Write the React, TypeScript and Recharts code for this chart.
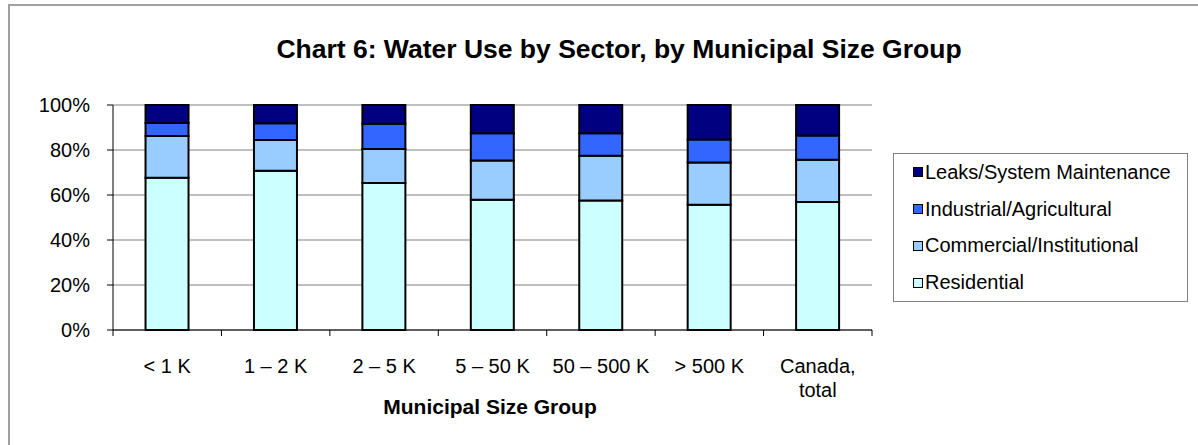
import { BarChart, Bar, XAxis, YAxis, CartesianGrid } from "recharts";

const categories = ["< 1 K", "1 – 2 K", "2 – 5 K", "5 – 50 K", "50 – 500 K", "> 500 K", "Canada,\ntotal"];
const residential = [67.7, 70.8, 65.3, 57.9, 57.6, 55.7, 56.9];
const commercial = [18.5, 13.6, 15.1, 17.4, 19.9, 18.8, 18.8];
const industrial = [5.8, 7.5, 11.3, 12.1, 9.9, 10.2, 10.7];
const leaks = [8.0, 8.1, 8.3, 12.6, 12.6, 15.3, 13.6];
const yTicks = [0, 20, 40, 60, 80, 100];

const SERIES = [
  { key: "residential", name: "Residential", fill: "#ccffff" },
  { key: "commercial", name: "Commercial/Institutional", fill: "#99ccff" },
  { key: "industrial", name: "Industrial/Agricultural", fill: "#3366ff" },
  { key: "leaks", name: "Leaks/System Maintenance", fill: "#000080" },
];

const data = categories.map((name, i) => ({
  name,
  residential: residential[i],
  commercial: commercial[i],
  industrial: industrial[i],
  leaks: leaks[i],
}));

const FONT = "'Liberation Sans', Arial, sans-serif";

// Excel puts the tick marks between categories, so draw them at the band edges
function CategoryTick(props: any) {
  const { x, y, payload, index } = props;
  const half = payload?.offset ?? 54;
  const lines = String(payload.value).split("\n");
  return (
    <g>
      <line x1={x - half} x2={x - half} y1={y} y2={y + 6} stroke="#000" />
      {index === categories.length - 1 && <line x1={x + half} x2={x + half} y1={y} y2={y + 6} stroke="#000" />}
      <text x={x} y={y + 43} textAnchor="middle" fontSize={20} fill="#000" fontFamily={FONT}>
        {lines.map((l, i) => (
          <tspan key={i} x={x} dy={i === 0 ? 0 : 24}>
            {l}
          </tspan>
        ))}
      </text>
    </g>
  );
}

export default function App() {
  return (
    <div style={{ position: "absolute", left: 0, top: 0, width: 1198, height: 445, background: "#fff", fontFamily: FONT, overflow: "hidden" }}>
      <div style={{ position: "absolute", left: 8, top: 4, width: 1300, height: 600, border: "2px solid #a0a0a0", boxSizing: "border-box" }} />
      <div
        style={{
          position: "absolute",
          left: 619,
          top: 36,
          transform: "translateX(-50%)",
          fontSize: 26.5,
          fontWeight: "bold",
          lineHeight: 1,
          whiteSpace: "nowrap",
        }}
      >
        Chart 6: Water Use by Sector, by Municipal Size Group
      </div>
      <div style={{ position: "absolute", left: 0, top: 0 }}>
        <BarChart width={1198} height={445} data={data} margin={{ top: 105, right: 326, left: 13, bottom: 15 }} barCategoryGap="30%">
          <CartesianGrid vertical={false} stroke="#808080" />
          <XAxis
            dataKey="name"
            height={100}
            axisLine={{ stroke: "#000" }}
            tickLine={false}
            tickSize={0}
            tickMargin={0}
            interval={0}
            tick={<CategoryTick />}
          />
          <YAxis
            width={100}
            domain={[0, 100]}
            ticks={yTicks}
            tickFormatter={(v) => `${v}%`}
            axisLine={{ stroke: "#000" }}
            tickLine={{ stroke: "#000" }}
            tickSize={6}
            tickMargin={17}
            tick={{ fontSize: 20, fill: "#000", fontFamily: FONT }}
          />
          <YAxis yAxisId="r" orientation="right" width={0} tick={false} tickLine={false} axisLine={{ stroke: "#909090", strokeWidth: 2 }} />
          {SERIES.map((s) => (
            <Bar key={s.key} dataKey={s.key} name={s.name} stackId="a" fill={s.fill} stroke="#000" strokeWidth={2} isAnimationActive={false} />
          ))}
        </BarChart>
      </div>
      <div
        style={{
          position: "absolute",
          left: 490,
          top: 396,
          transform: "translateX(-50%)",
          fontSize: 21,
          fontWeight: "bold",
          lineHeight: 1,
          whiteSpace: "nowrap",
        }}
      >
        Municipal Size Group
      </div>
      <div
        style={{
          position: "absolute",
          left: 893,
          top: 153,
          width: 295,
          height: 149,
          border: "1px solid #808080",
          boxSizing: "border-box",
          paddingLeft: 19,
        }}
      >
        {[...SERIES].reverse().map((s) => (
          <div key={s.key} style={{ display: "flex", alignItems: "center", height: 36.75, fontSize: 20, whiteSpace: "nowrap" }}>
            <span style={{ width: 10, height: 10, background: s.fill, border: "1.5px solid #000", boxSizing: "border-box", marginRight: 2 }} />
            {s.name}
          </div>
        ))}
      </div>
    </div>
  );
}
